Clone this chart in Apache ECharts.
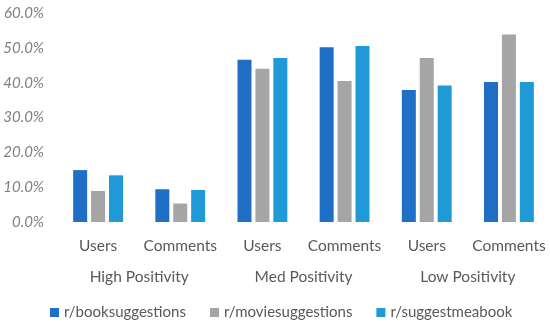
<!DOCTYPE html>
<html>
<head>
<meta charset="utf-8">
<script src="https://cdn.jsdelivr.net/npm/echarts@6/dist/echarts.min.js"></script>
<style>html,body{margin:0;padding:0;background:#fff;}#c{width:550px;height:327px;}</style>
</head>
<body>
<div id="c"></div>
<script>
var categories = ['Users', 'Comments', 'Users', 'Comments', 'Users', 'Comments'];
var groups = ['High Positivity', 'Med Positivity', 'Low Positivity'];
var seriesNames = ['r/booksuggestions', 'r/moviesuggestions', 'r/suggestmeabook'];
var bookSuggestions = [14.9, 9.4, 46.6, 50.2, 37.9, 40.2];
var movieSuggestions = [8.9, 5.3, 44.0, 40.5, 47.1, 53.8];
var suggestMeABook = [13.4, 9.2, 47.1, 50.5, 39.2, 40.2];
var colors = ['#1f6fc5', '#a5a5a5', '#1f9ad6'];

var chart = echarts.init(document.getElementById('c'), null, {renderer: 'canvas'});
var font = 'Lato, "Open Sans", sans-serif';
function bar(name, data, color) {
  return {
    name: name, type: 'bar', data: data, xAxisIndex: 0,
    barWidth: 14, barGap: '28%',
    itemStyle: {color: color}
  };
}
chart.setOption({
  animation: false,
  textStyle: {fontFamily: font},
  grid: {left: 57, right: 0, top: 13, bottom: 105},
  legend: {
    top: 300, left: 45, width: 540, itemWidth: 9, itemHeight: 9, itemGap: 24,
    icon: 'rect', orient: 'horizontal',
    textStyle: {color: '#595959', fontSize: 15, fontFamily: font},
    data: seriesNames
  },
  xAxis: [{
    type: 'category', data: categories,
    axisLine: {show: false}, axisTick: {show: false},
    axisLabel: {color: '#595959', fontSize: 15.5, margin: 16, interval: 0, fontFamily: font}
  }, {
    type: 'category', data: groups, position: 'bottom', offset: 32,
    axisLine: {show: false}, axisTick: {show: false},
    axisLabel: {color: '#595959', fontSize: 15.5, margin: 15, interval: 0, fontFamily: font}
  }],
  yAxis: {
    type: 'value', min: 0, max: 60, interval: 10,
    splitLine: {show: false}, axisLine: {show: false}, axisTick: {show: false},
    axisLabel: {
      color: '#7f7f7f', fontSize: 15, fontStyle: 'italic', margin: 13, fontFamily: font,
      formatter: function (v) { return v.toFixed(1) + '%'; }
    }
  },
  series: [
    bar(seriesNames[0], bookSuggestions, colors[0]),
    bar(seriesNames[1], movieSuggestions, colors[1]),
    bar(seriesNames[2], suggestMeABook, colors[2])
  ]
});
</script>
</body>
</html>
